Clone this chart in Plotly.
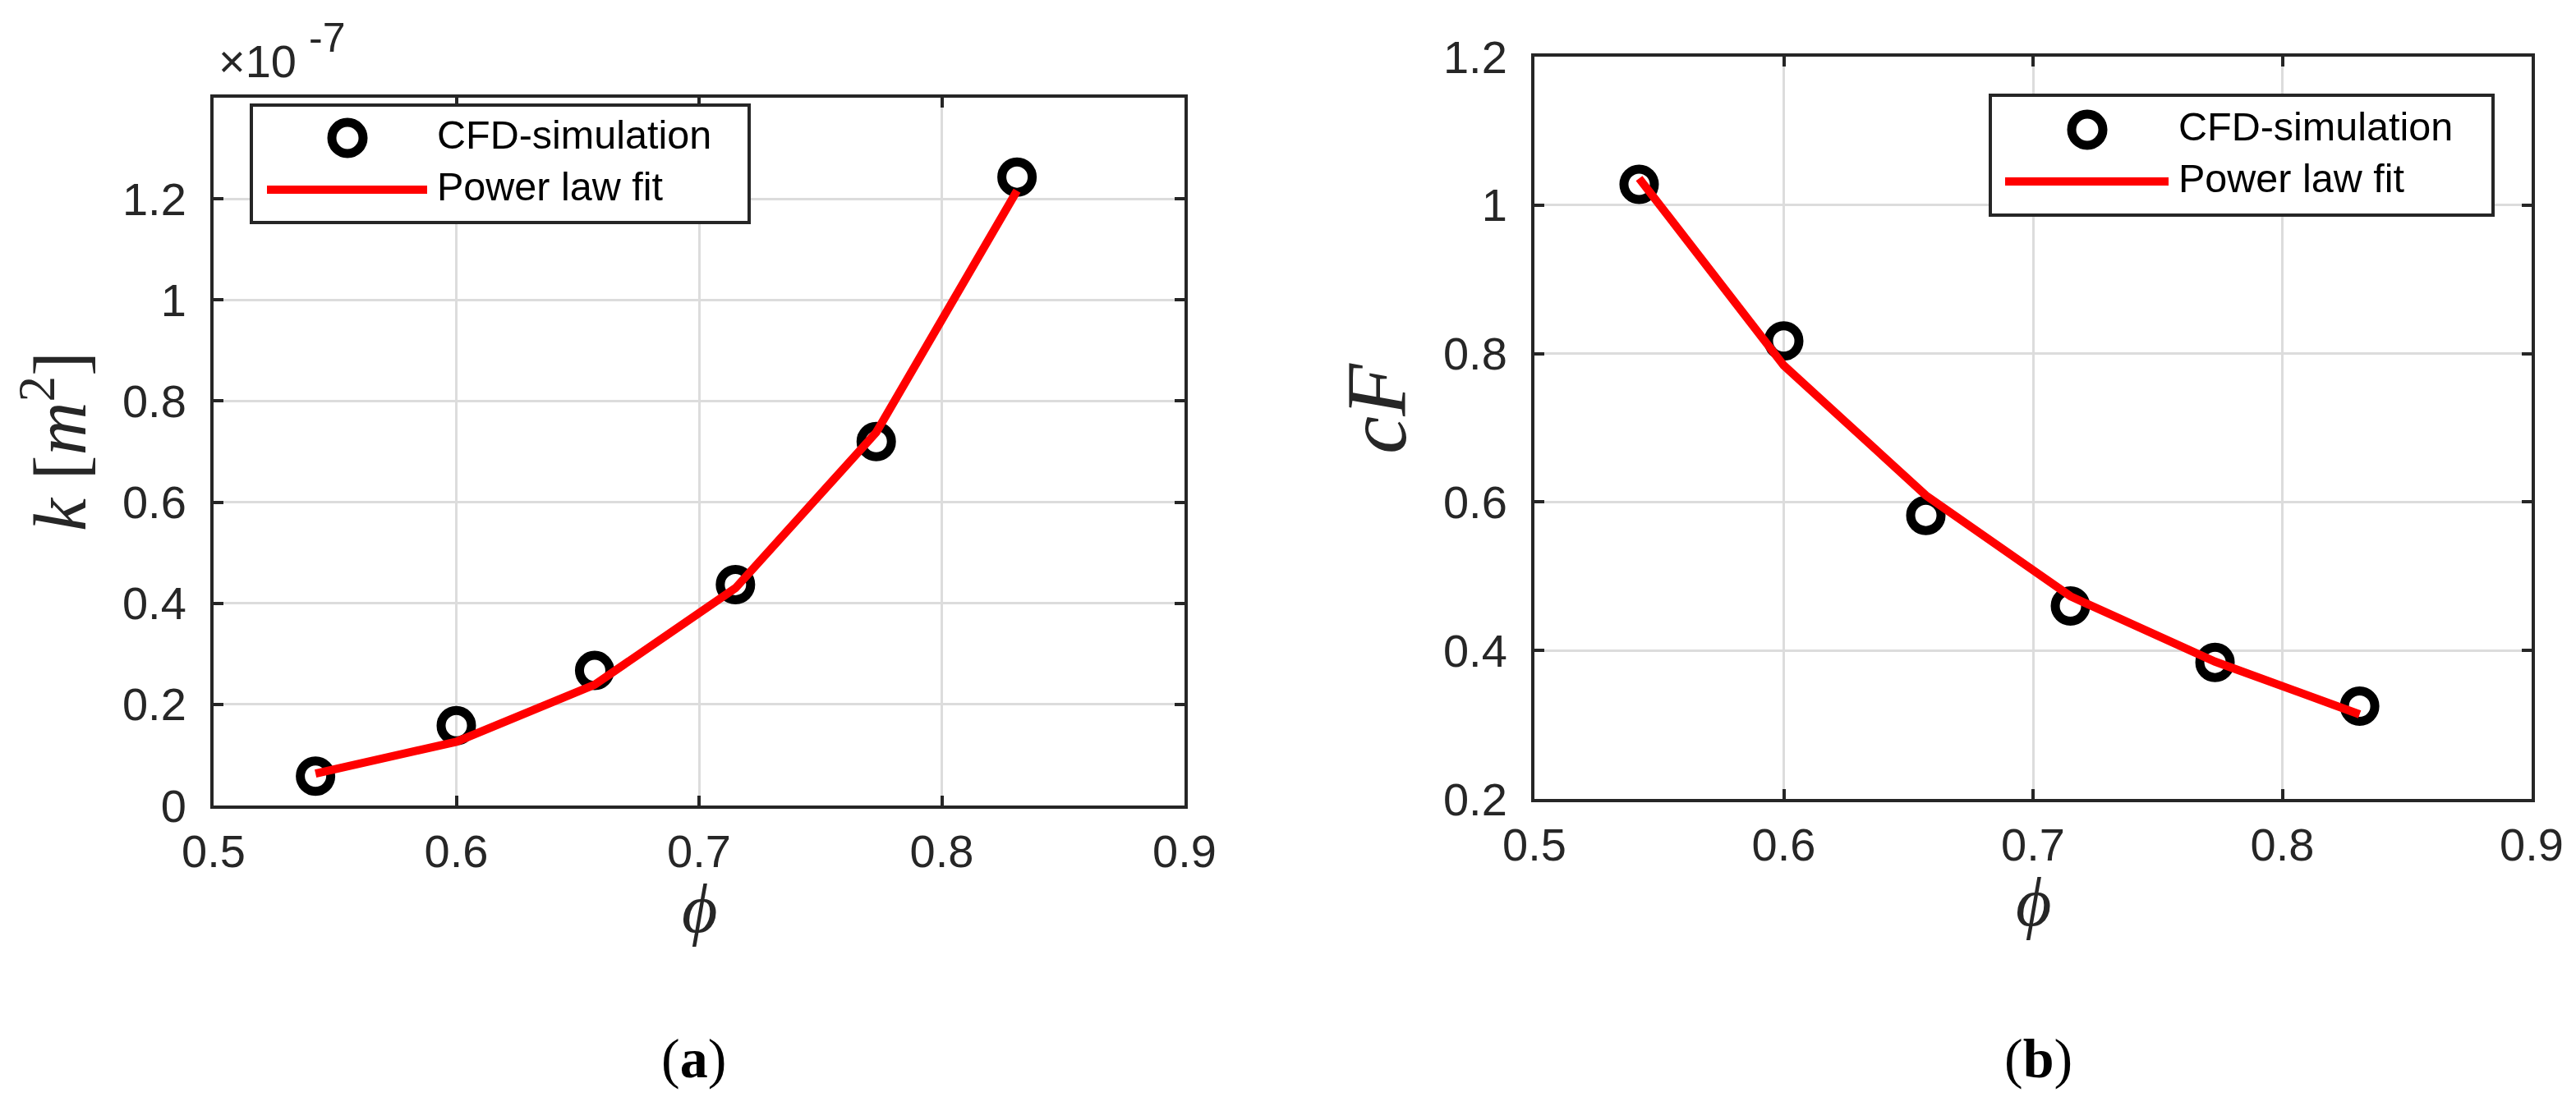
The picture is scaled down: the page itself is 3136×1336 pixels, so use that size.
import plotly.graph_objects as go

# ---------------- data ----------------
phi = [0.542, 0.600, 0.657, 0.715, 0.773, 0.831]

k_cfd = [0.058, 0.158, 0.267, 0.437, 0.720, 1.243]   # x 1e-7 m^2
k_fit = [0.063, 0.126, 0.239, 0.430, 0.738, 1.216]   # x 1e-7 m^2

cf_cfd = [1.028, 0.817, 0.582, 0.460, 0.384, 0.325]
cf_fit = [1.036, 0.784, 0.609, 0.473, 0.385, 0.314]

x_ticks = [0.5, 0.6, 0.7, 0.8, 0.9]
x_ticktext = ["0.5", "0.6", "0.7", "0.8", "0.9"]
k_ticks = [0, 0.2, 0.4, 0.6, 0.8, 1.0, 1.2]
k_ticktext = ["0", "0.2", "0.4", "0.6", "0.8", "1", "1.2"]
cf_ticks = [0.2, 0.4, 0.6, 0.8, 1.0, 1.2]
cf_ticktext = ["0.2", "0.4", "0.6", "0.8", "1", "1.2"]

series_names = ["CFD-simulation", "Power law fit"]

# ---------------- layout helpers ----------------
W, H = 3136, 1336


def px(x):
    return x / W


def py(y):
    return 1 - y / H


AX = "#262626"
GRID = "#dcdcdc"
SANS = "Liberation Sans, Arial, Helvetica, sans-serif"
SERIF = "Liberation Serif, Times New Roman, DejaVu Serif, serif"

fig = go.Figure()

marker_style = dict(symbol="circle-open", size=37, color="black", line=dict(width=11, color="black"))
line_style = dict(color="#ff0000", width=10)

# Plot (a)
fig.add_trace(go.Scatter(x=phi, y=k_cfd, mode="markers", marker=marker_style,
                         name=series_names[0], xaxis="x", yaxis="y", showlegend=False))
fig.add_trace(go.Scatter(x=phi, y=k_fit, mode="lines", line=line_style,
                         name=series_names[1], xaxis="x", yaxis="y", showlegend=False))
# Plot (b)
fig.add_trace(go.Scatter(x=phi, y=cf_cfd, mode="markers", marker=marker_style,
                         name=series_names[0], xaxis="x2", yaxis="y2", showlegend=False))
fig.add_trace(go.Scatter(x=phi, y=cf_fit, mode="lines", line=line_style,
                         name=series_names[1], xaxis="x2", yaxis="y2", showlegend=False))

axis_common = dict(
    showline=True, linecolor=AX, linewidth=4, mirror="ticks",
    ticks="inside", ticklen=12, tickwidth=4, tickcolor=AX,
    showgrid=True, gridcolor=GRID, gridwidth=3, zeroline=False,
    automargin=False,
    tickfont=dict(family=SANS, size=56, color=AX),
)

fig.update_layout(
    template="none",
    width=W, height=H,
    margin=dict(l=0, r=0, t=0, b=0, pad=0, autoexpand=False),
    paper_bgcolor="white", plot_bgcolor="white",
    showlegend=False,
    xaxis=dict(domain=[px(252), px(1434)], range=[0.5, 0.9], tickvals=x_ticks,
               ticktext=x_ticktext, anchor="y", ticklabelstandoff=4, **axis_common),
    yaxis=dict(domain=[py(973), py(111)], range=[0, 1.4], tickvals=k_ticks,
               ticktext=k_ticktext, anchor="x", ticklabelstandoff=18, **axis_common),
    xaxis2=dict(domain=[px(1860), px(3074)], range=[0.5, 0.9], tickvals=x_ticks,
                ticktext=x_ticktext, anchor="y2", ticklabelstandoff=4, **axis_common),
    yaxis2=dict(domain=[py(965), py(61)], range=[0.2, 1.2], tickvals=cf_ticks,
                ticktext=cf_ticktext, anchor="x2", ticklabelstandoff=18, **axis_common),
)

shapes = []
annotations = []


def add_legend(box, marker_xy, line_x, line_y, text_x, text_ys):
    x0, y0, x1, y1 = box
    shapes.append(dict(type="rect", xref="paper", yref="paper", layer="above",
                       x0=px(x0), x1=px(x1), y0=py(y1), y1=py(y0),
                       line=dict(color=AX, width=4), fillcolor="white"))
    mx, my = marker_xy
    shapes.append(dict(type="circle", xref="paper", yref="paper", layer="above",
                       xsizemode="pixel", ysizemode="pixel",
                       xanchor=px(mx), yanchor=py(my),
                       x0=-19, x1=19, y0=-19, y1=19,
                       line=dict(color="black", width=11)))
    shapes.append(dict(type="line", xref="paper", yref="paper", layer="above",
                       x0=px(line_x[0]), x1=px(line_x[1]), y0=py(line_y), y1=py(line_y),
                       line=dict(color="#ff0000", width=10)))
    for name, ty in zip(series_names, text_ys):
        annotations.append(dict(text=name, xref="paper", yref="paper", x=px(text_x), y=py(ty),
                                xanchor="left", yanchor="middle", showarrow=False,
                                font=dict(family=SANS, size=48.5, color="black")))


add_legend((298, 120, 904, 263), (415, 160), (317, 512), 223, 522, (156, 219))
add_legend((2415, 108, 3027, 254), (2533, 150), (2433, 2632), 213, 2642, (146, 209))

# multiplier for plot (a)
annotations.append(dict(text="×10", xref="paper", yref="paper", x=px(256), y=py(66),
                        xanchor="left", yanchor="middle", showarrow=False,
                        font=dict(family=SANS, size=56, color=AX)))
annotations.append(dict(text="-7", xref="paper", yref="paper", x=px(366), y=py(38),
                        xanchor="left", yanchor="middle", showarrow=False,
                        font=dict(family=SANS, size=50, color=AX)))

# axis titles
annotations.append(dict(text="<i>ϕ</i>", xref="paper", yref="paper", x=px(843), y=py(1098),
                        xanchor="center", yanchor="middle", showarrow=False,
                        font=dict(family=SERIF, size=84, color=AX)))
annotations.append(dict(text="<i>ϕ</i>", xref="paper", yref="paper", x=px(2467), y=py(1090),
                        xanchor="center", yanchor="middle", showarrow=False,
                        font=dict(family=SERIF, size=84, color=AX)))
annotations.append(dict(text="<i>k</i> [<i>m</i><sup>2</sup>]", xref="paper", yref="paper",
                        x=px(58), y=py(530), textangle=-90,
                        xanchor="center", yanchor="middle", showarrow=False,
                        font=dict(family=SERIF, size=90, color=AX)))
annotations.append(dict(text="<i>cF</i>", xref="paper", yref="paper",
                        x=px(1668), y=py(490), textangle=-90,
                        xanchor="center", yanchor="middle", showarrow=False,
                        font=dict(family=SERIF, size=104, color=AX)))

# sub-figure captions
annotations.append(dict(text="(<b>a</b>)", xref="paper", yref="paper", x=px(836), y=py(1281),
                        xanchor="center", yanchor="middle", showarrow=False,
                        font=dict(family=SERIF, size=68, color="black")))
annotations.append(dict(text="(<b>b</b>)", xref="paper", yref="paper", x=px(2473), y=py(1281),
                        xanchor="center", yanchor="middle", showarrow=False,
                        font=dict(family=SERIF, size=68, color="black")))

fig.update_layout(shapes=shapes, annotations=annotations)

fig.write_html("out.html")
